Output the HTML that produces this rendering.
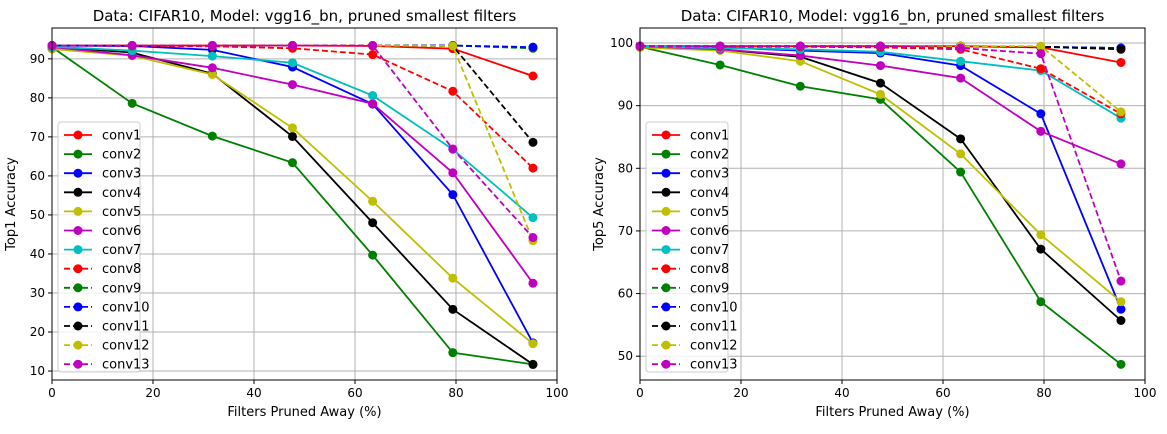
<!DOCTYPE html>
<html><head><meta charset="utf-8"><style>
body{margin:0;background:#fff;font-family:"Liberation Sans","DejaVu Sans",sans-serif}
svg text{font-family:"DejaVu Sans","Liberation Sans",sans-serif}
</style></head><body>
<svg id="c" width="1167" height="429" xmlns="http://www.w3.org/2000/svg"></svg>
<script>
const xs=[0,15.87,31.75,47.62,63.49,79.37,95.24];
const seriesNames=["conv1","conv2","conv3","conv4","conv5","conv6","conv7","conv8","conv9","conv10","conv11","conv12","conv13"];
const colors=["#ff0000","#008000","#0000ff","#000000","#bfbf00","#bf00bf","#00bfbf","#ff0000","#008000","#0000ff","#000000","#bfbf00","#bf00bf"];
const top1=[
[93.4,93.4,93.4,93.4,93.3,92.6,85.6],
[93.0,78.6,70.2,63.4,39.7,14.7,11.7],
[93.4,93.3,92.3,87.9,78.4,55.2,17.2],
[93.1,91.6,86.2,70.1,48.0,25.8,11.7],
[92.5,90.8,86.0,72.3,53.5,33.8,17.0],
[93.0,90.9,87.7,83.4,78.5,60.8,32.5],
[93.1,92.1,90.7,89.0,80.6,66.8,49.3],
[93.4,93.3,93.2,92.7,91.1,81.7,62.0],
[93.4,93.4,93.4,93.4,93.4,93.4,92.7],
[93.4,93.4,93.4,93.4,93.4,93.4,93.0],
[93.4,93.4,93.4,93.4,93.4,93.3,68.6],
[93.4,93.4,93.4,93.4,93.4,93.3,43.4],
[93.4,93.4,93.4,93.4,93.4,66.9,44.2]];
const top5=[
[99.5,99.5,99.5,99.5,99.5,99.3,96.9],
[99.4,96.5,93.1,91.0,79.4,58.7,48.7],
[99.5,99.3,98.8,98.4,96.4,88.7,57.5],
[99.5,99.0,97.8,93.6,84.7,67.1,55.7],
[99.3,98.8,97.1,91.8,82.3,69.4,58.7],
[99.5,99.0,98.0,96.4,94.4,85.9,80.7],
[99.5,99.2,99.0,98.6,97.1,95.6,88.0],
[99.5,99.4,99.4,99.3,99.0,95.9,88.7],
[99.5,99.5,99.5,99.5,99.5,99.4,99.2],
[99.5,99.5,99.5,99.5,99.5,99.4,99.2],
[99.5,99.5,99.5,99.5,99.5,99.4,99.0],
[99.5,99.5,99.5,99.5,99.5,99.5,89.0],
[99.5,99.5,99.5,99.5,99.2,98.3,62.0]];
const xTicks=[0,20,40,60,80,100];
const yTicks1=[10,20,30,40,50,60,70,80,90];
const yTicks5=[50,60,70,80,90,100];
const NS="http://www.w3.org/2000/svg";
const svg=document.getElementById('c');
function mk(t,a,p){const e=document.createElementNS(NS,t);for(const k in a)e.setAttribute(k,a[k]);(p||svg).appendChild(e);return e;}
function panel(id,L,R,T,B,ymin,ymax,data,yTicks,ylabel,title){
  const g=mk('g',{});
  
  
  const sx=v=>L+(v-0)/(100-0)*(R-L);
  const sy=v=>B-(v-ymin)/(ymax-ymin)*(B-T);
  xTicks.forEach(t=>{mk('line',{x1:sx(t),x2:sx(t),y1:T,y2:B,stroke:'#b0b0b0','stroke-width':1},g);
    mk('line',{x1:sx(t),x2:sx(t),y1:B,y2:B+4,stroke:'#000'},g);
    const tx=mk('text',{x:sx(t),y:B+17,'text-anchor':'middle','font-size':12},g);tx.textContent=t;
    });
  yTicks.forEach(t=>{mk('line',{x1:L,x2:R,y1:sy(t),y2:sy(t),stroke:'#b0b0b0','stroke-width':1},g);
    mk('line',{x1:L-4,x2:L,y1:sy(t),y2:sy(t),stroke:'#000'},g);
    const tx=mk('text',{x:L-7,y:sy(t)+4,'text-anchor':'end','font-size':12},g);tx.textContent=t;
    });
  data.forEach((s,i)=>{
    const pts=s.map((v,j)=>sx(xs[j])+','+sy(v)).join(' ');
    const pl=mk('polyline',{points:pts,fill:'none',stroke:colors[i],'stroke-width':1.8,'stroke-dasharray':i>=7?'6,3':'none'},g);
    
    s.forEach((v,j)=>{const c=mk('circle',{cx:sx(xs[j]),cy:sy(v),r:4.5,fill:colors[i]},g);
      });
  });
  mk('rect',{x:L,y:T,width:R-L,height:B-T,fill:'none',stroke:'#000','stroke-width':1},g);
  const tt=mk('text',{x:(L+R)/2,y:T-7,'text-anchor':'middle','font-size':15},g);tt.textContent=title;
  
  const xl=mk('text',{x:(L+R)/2,y:B+36,'text-anchor':'middle','font-size':13},g);xl.textContent='Filters Pruned Away (%)';
  
  const yl=mk('text',{x:0,y:0,'text-anchor':'middle','font-size':13,transform:`translate(${L-37},${(T+B)/2}) rotate(-90)`},g);yl.textContent=ylabel;
  
  // legend
  const lg=mk('g',{},g);
  
  mk('rect',{x:L+6,y:122,width:82,height:250,rx:3,fill:'#fff','fill-opacity':0.8,stroke:'#ccc'},lg);
  seriesNames.forEach((n,i)=>{const y=135+i*19.1;
    mk('line',{x1:L+12,x2:L+40,y1:y,y2:y,stroke:colors[i],'stroke-width':1.8,'stroke-dasharray':i>=7?'6,3':'none'},lg);
    mk('circle',{cx:L+26,cy:y,r:4.5,fill:colors[i]},lg);
    const t=mk('text',{x:L+50,y:y+4.5,'font-size':13},lg);t.textContent=n;
    });
}
panel('top1',52,557,28,380,7.7,97.9,top1,yTicks1,'Top1 Accuracy','Data: CIFAR10, Model: vgg16_bn, pruned smallest filters');
panel('top5',640,1145,28,380,46.2,102.4,top5,yTicks5,'Top5 Accuracy','Data: CIFAR10, Model: vgg16_bn, pruned smallest filters');
</script>
</body></html>
